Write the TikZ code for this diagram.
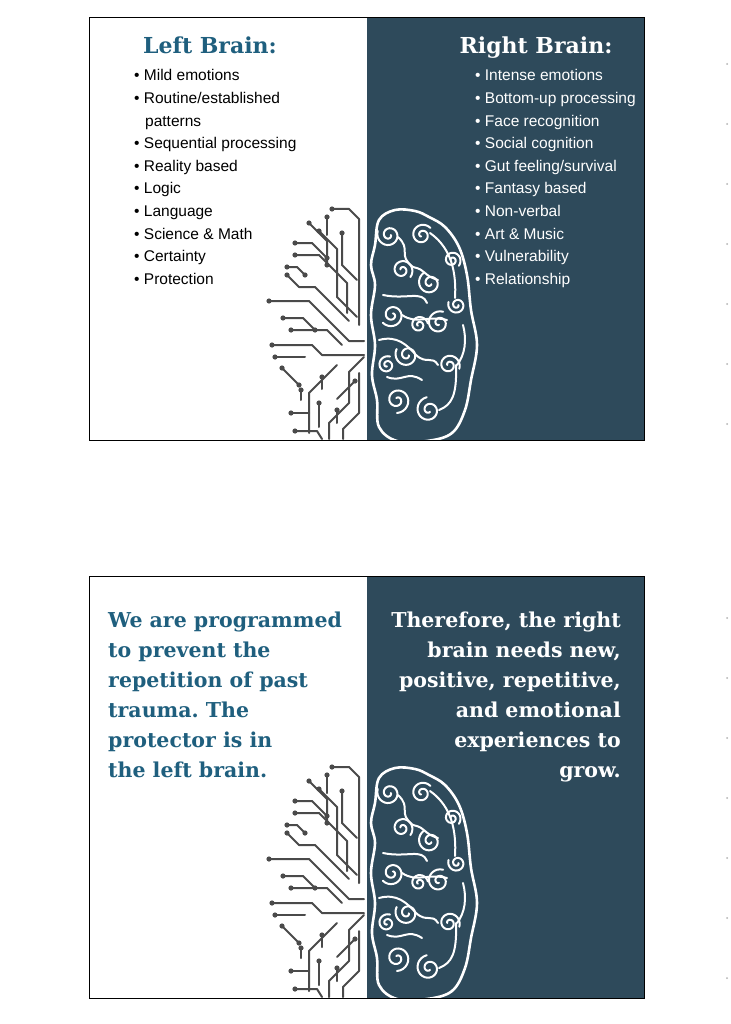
\documentclass[tikz,border=0pt]{standalone}
\usepackage{fontspec}
\setmainfont{DejaVu Serif}
\setsansfont{Liberation Sans}
\frenchspacing
\definecolor{panel}{HTML}{2E4A5B}
\definecolor{titleblue}{HTML}{1F5F7E}
\definecolor{wire}{HTML}{4A4A4A}
\tikzset{
 wirel/.style={draw=wire,line width=2pt,line cap=round,line join=round},
 wdot/.style={fill=wire},
 brainl/.style={draw=white,line width=2.6pt,line cap=round},
 swl/.style={white,line width=2pt,line cap=round},
 bul/.style={anchor=base west,font=\sffamily\fontsize{15.5}{15.5}\selectfont,inner sep=0pt},
 ttl/.style={anchor=base,font=\bfseries\fontsize{22}{22}\selectfont,inner sep=0pt},
 big/.style={font=\bfseries\fontsize{20.5}{30}\selectfont,inner sep=0pt,align=left},
 pics/brain/.style={code={
  \foreach \p in {
   {(-35,4)--(-18,4)--(-8,14)--(-8,120)},
   {(-48,26)--(-30,44)--(-30,92)--(-10,112)},
   {(-58,18)--(-40,36)--(-40,60)},
   {(-72,38)--(-55,38)--(-40,53)},
   {(-72,50)--(-48,50)--(-20,78)--(-20,108)},
   {(-80,62)--(-70,62)--(-62,70)},
   {(-80,70)--(-68,82)--(-52,82)--(-18,116)},
   {(-98,96)--(-58,96)--(-18,136)--(-3,136)},
   {(-84,113)--(-64,113)--(-52,125)},
   {(-76,125)--(-40,125)--(-25,140)},
   {(-95,140)--(-55,140)--(-45,150)--(-3,150)},
   {(-92,152)--(-62,152)},
   {(-85,163)--(-68,180)},
   {(-3,152)--(-18,167)--(-18,198)--(-38,218)--(-38,234)},
   {(-30,160)--(-58,188)--(-58,228)},
   {(-76,208)--(-58,208)},
   {(-8,168)--(-8,208)--(-24,224)--(-24,234)},
   {(-45,172)--(-45,184)},
   {(-12,176)--(-30,194)},
   {(-72,226)--(-50,226)--(-45,234)},
   {(-25,28)--(-25,60)--(-10,75)},
   {(-48,198)--(-48,222)},
   {(-66,185)--(-66,195)},
   {(-30,205)--(-30,218)},
   {(-40,12)--(-40,30)}} {\draw[wirel] \p;}
  \foreach \q in {(-35,4),(-48,26),(-58,18),(-72,38),(-72,50),(-80,62),(-80,70),(-98,96),(-84,113),(-76,125),(-95,140),(-92,152),(-85,163),(-76,208),(-45,172),(-12,176),(-72,226),(-25,28),(-40,12),(-40,60),(-40,53),(-52,125),(-68,180),(-62,70),(-48,198),(-66,185),(-30,205)}
   \fill[wdot] \q circle (2.6);
  \draw[brainl] plot[smooth cycle,tension=0.6] coordinates {(8,40)(12,15)(28,5)(48,6)(62,12)(78,22)(92,42)(100,70)(104,105)(110,140)(104,175)(98,205)(85,228)(60,236)(30,236)(12,222)(10,195)(5,170)(8,140)(4,110)(8,80)(4,60)};
  \foreach \cx/\cy/\r/\a in {22/30/12/0,55/30/11/120,35/65/11/200,63/78/12/40,25/110/12/300,72/118/12/90,40/150/12/10,82/160/11/180,30/195/13/250,62/205/13/60,90/100/9/0,52/120/9/150,20/160/9/90,85/55/9/200}
   \draw[swl] plot[domain=0:560,samples=40,variable=\t] ({\cx+\r*(0.15+0.85*\t/560)*cos(\t+\a)},{\cy+\r*(0.15+0.85*\t/560)*sin(\t+\a)});
  \draw[swl] (31,32) .. controls (45,45) and (30,50) .. (46,62);
  \draw[swl] (46,62) .. controls (60,65) and (55,70) .. (71,75);
  \draw[swl] (16,90) .. controls (40,95) and (55,85) .. (60,98);
  \draw[swl] (35,110) .. controls (50,120) and (60,110) .. (80,115);
  \draw[swl] (12,135) .. controls (30,130) and (40,140) .. (49,150);
  \draw[swl] (49,150) .. controls (60,160) and (65,150) .. (71,160);
  \draw[swl] (72,205) .. controls (85,200) and (90,190) .. (89,160);
  \draw[swl] (63,28) .. controls (80,40) and (90,60) .. (88,93);
  \draw[swl] (96,120) .. controls (100,135) and (98,150) .. (90,160);
  \draw[swl] (20,172) .. controls (35,178) and (40,165) .. (55,175);
 }}
}
\begin{document}
\begin{tikzpicture}[x=1pt,y=-1pt]
\useasboundingbox (0,0) rectangle (730,1024);
\fill[white] (0,0) rectangle (730,1024);
% slide 1
\fill[panel] (367,18) rectangle (644,440);
\pic at (367,205) {brain};
\draw[black,line width=1pt] (89,18) rectangle (644,440);
\node[ttl,text=titleblue] (lt) at (210,54) {Left Brain:};
\node[ttl,text=white] (rt) at (536,54) {Right Brain:};
\foreach \t [count=\i] in {Mild emotions,Routine/established,\hspace*{11pt}patterns,Sequential processing,Reality based,Logic,Language,Science \& Math,Certainty,Protection}{
  \node[bul] (l\i) at (134,{81+22.6*(\i-1)}) {\ifnum\i=3 \else\textbullet\ \fi\t};}
\foreach \t [count=\i] in {Intense emotions,Bottom-up processing,Face recognition,Social cognition,Gut feeling/survival,Fantasy based,Non-verbal,Art \& Music,Vulnerability,Relationship}{
  \node[bul,text=white] (r\i) at (475,{81+22.6*(\i-1)}) {\textbullet\ \t};}
% slide 2
\fill[panel] (367,576) rectangle (644,998);
\pic at (367,763) {brain};
\draw[black,line width=1pt] (89,576) rectangle (644,998);
\node[big,text=titleblue,anchor=north west] (lb) at (108,612) {We are programmed\\to prevent the\\repetition of past\\trauma. The\\protector is in\\the left brain.};
\node[big,text=white,anchor=north east,align=right] (rb) at (621,612) {Therefore, the right\\brain needs new,\\positive, repetitive,\\and emotional\\experiences to\\grow.};
% edge dots
\foreach \k in {0,...,6}{
  \fill[gray!60] (727,{64+60*\k}) circle (1);
  \fill[gray!60] (727,{618+60*\k}) circle (1);}
\end{tikzpicture}
\end{document}
